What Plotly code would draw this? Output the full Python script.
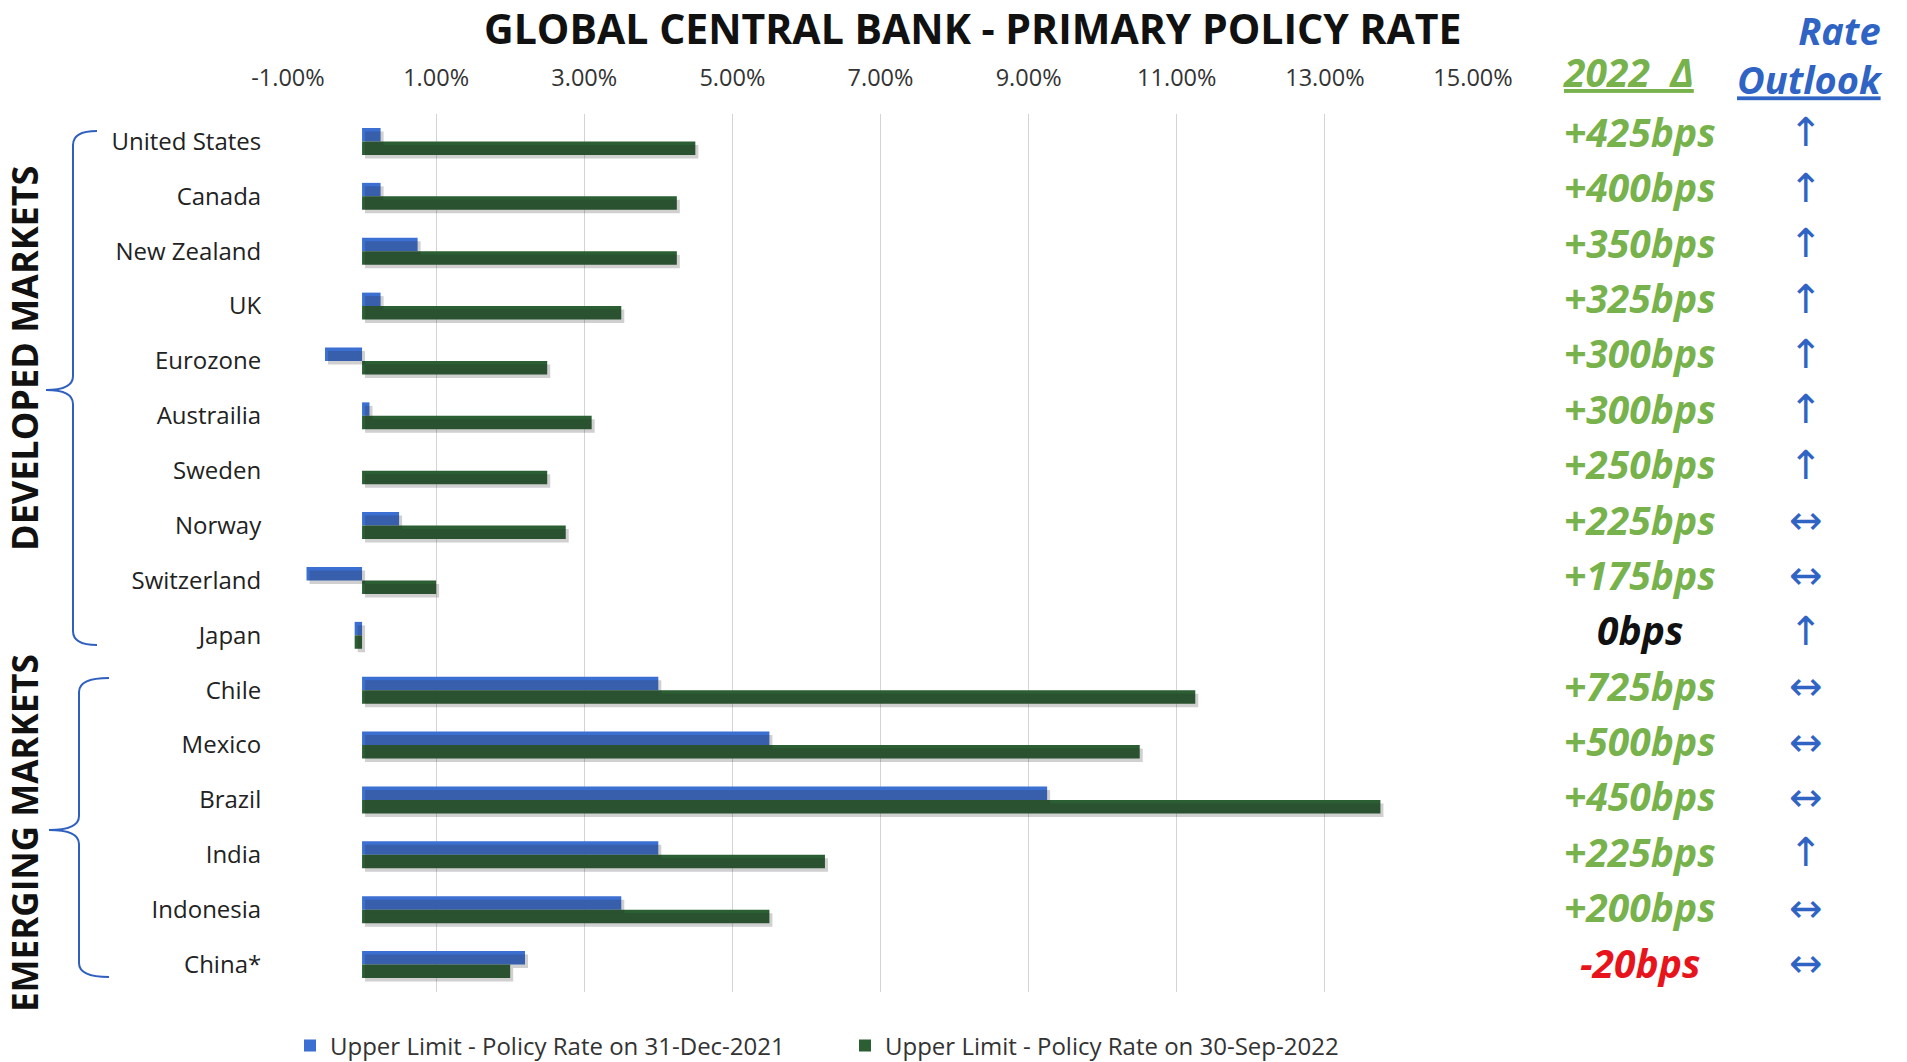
import plotly.graph_objects as go

# ---------------- data ----------------
countries = ["United States", "Canada", "New Zealand", "UK", "Eurozone", "Austrailia",
             "Sweden", "Norway", "Switzerland", "Japan", "Chile", "Mexico", "Brazil",
             "India", "Indonesia", "China*"]
rate_dec2021 = [0.25, 0.25, 0.75, 0.25, -0.50, 0.10, 0.00, 0.50, -0.75, -0.10,
                4.00, 5.50, 9.25, 4.00, 3.50, 2.20]
rate_sep2022 = [4.50, 4.25, 4.25, 3.50, 2.50, 3.10, 2.50, 2.75, 1.00, -0.10,
                11.25, 10.50, 13.75, 6.25, 5.50, 2.00]
delta_labels = ["+425bps", "+400bps", "+350bps", "+325bps", "+300bps", "+300bps",
                "+250bps", "+225bps", "+175bps", "0bps", "+725bps", "+500bps",
                "+450bps", "+225bps", "+200bps", "-20bps"]
outlook = ["↑", "↑", "↑", "↑", "↑", "↑", "↑", "↔", "↔", "↑",
           "↔", "↔", "↔", "↑", "↔", "↔"]
tick_vals = [-1, 1, 3, 5, 7, 9, 11, 13, 15]
tick_text = ["-1.00%", "1.00%", "3.00%", "5.00%", "7.00%", "9.00%", "11.00%", "13.00%", "15.00%"]
series_names = ["Upper Limit - Policy Rate on 31-Dec-2021",
                "Upper Limit - Policy Rate on 30-Sep-2022"]
title_text = "GLOBAL CENTRAL BANK - PRIMARY POLICY RATE"
group_labels = ["DEVELOPED MARKETS", "EMERGING MARKETS"]

# ---------------- layout geometry ----------------
W, H = 1907, 1062
L, R, T, B = 288, 434, 114, 70
PW, PH = W - L - R, H - T - B
X0, X1 = -1, 15
N = len(countries)
ROW_PX = PH / N
BAR_W = 0.245
SH_DX = 3.0 * (X1 - X0) / PW      # shadow shift (axis units) to the right
SH_DY = 3.5 / ROW_PX              # shadow shift (category units) downward


def px2x(px):
    return (px - L) / PW


def px2y(py):
    return 1 - (py - T) / PH


BLUE = "#3B6FD1"
GREEN = "#2B5E33"
SHADOW = "rgba(40,40,40,0.22)"
TXT_GREEN = "#77B24C"
TXT_BLUE = "#2F63C4"
FONT = "Open Sans"

fig = go.Figure()
# soft drop shadows (drawn on a copy of the x axis shifted by a few pixels)
fig.add_trace(go.Bar(y=countries, x=rate_dec2021, orientation="h", showlegend=False,
                     hoverinfo="skip", xaxis="x2", offset=-BAR_W + SH_DY, width=BAR_W,
                     marker=dict(color=SHADOW, line=dict(width=0))))
fig.add_trace(go.Bar(y=countries, x=rate_sep2022, orientation="h", showlegend=False,
                     hoverinfo="skip", xaxis="x2", offset=SH_DY, width=BAR_W,
                     marker=dict(color=SHADOW, line=dict(width=0))))
# real bars
fig.add_trace(go.Bar(y=countries, x=rate_dec2021, orientation="h", name=series_names[0],
                     offset=-BAR_W, width=BAR_W,
                     marker=dict(color=BLUE, line=dict(width=0))))
fig.add_trace(go.Bar(y=countries, x=rate_sep2022, orientation="h", name=series_names[1],
                     offset=0, width=BAR_W,
                     marker=dict(color=GREEN, line=dict(width=0))))

annotations = []
# title
annotations.append(dict(text="<b>" + title_text + "</b>", x=px2x(973), y=px2y(28),
                        xref="paper", yref="paper", xanchor="center", yanchor="middle",
                        showarrow=False, borderpad=0,
                        font=dict(family=FONT, size=41, color="#111111")))
# column headers
annotations.append(dict(text="<b><i><u>2022\u00a0\u00a0Δ</u></i></b>", x=px2x(1628), y=px2y(72),
                        xref="paper", yref="paper", xanchor="center", yanchor="middle",
                        showarrow=False, font=dict(family=FONT, size=39, color=TXT_GREEN)))
annotations.append(dict(text="<b><i>Rate</i></b><br><b><i><u>Outlook</u></i></b>",
                        x=px2x(1884), y=px2y(54), align="right",
                        xref="paper", yref="paper", xanchor="right", yanchor="middle",
                        showarrow=False, borderpad=0,
                        font=dict(family=FONT, size=38, color=TXT_BLUE)))
# right-hand columns
for i, (c, d, o) in enumerate(zip(countries, delta_labels, outlook)):
    if d.startswith("+"):
        col = TXT_GREEN
    elif d.startswith("-"):
        col = "#E8141B"
    else:
        col = "#111111"
    shift = 10 - 0.5 * i
    annotations.append(dict(text="<b><i>" + d + "</i></b>", x=px2x(1640), y=c,
                            xref="paper", yref="y", xanchor="center", yanchor="middle",
                            yshift=shift, showarrow=False,
                            font=dict(family=FONT, size=39, color=col)))
    annotations.append(dict(text=o, x=px2x(1806), y=c,
                            xref="paper", yref="y", xanchor="center", yanchor="middle",
                            yshift=shift - 1, showarrow=False, borderpad=0,
                            font=dict(family="DejaVu Sans", size=40, color=TXT_BLUE)))
# group labels
annotations.append(dict(text="<b>" + group_labels[0] + "</b>", x=px2x(24), y=px2y(359),
                        xref="paper", yref="paper", xanchor="center", yanchor="middle",
                        textangle=-90, showarrow=False,
                        font=dict(family=FONT, size=36, color="#111111")))
annotations.append(dict(text="<b>" + group_labels[1] + "</b>", x=px2x(24), y=px2y(833),
                        xref="paper", yref="paper", xanchor="center", yanchor="middle",
                        textangle=-90, showarrow=False,
                        font=dict(family=FONT, size=35, color="#111111")))


def brace(top, bottom, mid, vx, hook, tip, r=14):
    pts = [
        f"M {px2x(hook)},{px2y(top)}",
        f"Q {px2x(vx)},{px2y(top)} {px2x(vx)},{px2y(top + r)}",
        f"L {px2x(vx)},{px2y(mid - r)}",
        f"Q {px2x(vx)},{px2y(mid)} {px2x(tip)},{px2y(mid)}",
        f"Q {px2x(vx)},{px2y(mid)} {px2x(vx)},{px2y(mid + r)}",
        f"L {px2x(vx)},{px2y(bottom - r)}",
        f"Q {px2x(vx)},{px2y(bottom)} {px2x(hook)},{px2y(bottom)}",
    ]
    return dict(type="path", path=" ".join(pts), xref="paper", yref="paper",
                line=dict(color="#2F5FBF", width=2))


shapes = [brace(131, 645, 390, 73, 97, 46), brace(678, 977, 830, 79, 109, 49)]

fig.update_layout(
    width=W, height=H,
    margin=dict(l=L, r=R, t=T, b=B, pad=0, autoexpand=False),
    paper_bgcolor="white", plot_bgcolor="white",
    barmode="overlay",
    font=dict(family=FONT, size=22, color="#222222"),
    xaxis=dict(range=[X0, X1], side="top", tickvals=tick_vals, ticktext=tick_text,
               showgrid=True, gridcolor="#D4D4D4", gridwidth=1, zeroline=False,
               showline=False, ticks="outside", ticklen=18, tickcolor="rgba(0,0,0,0)",
               tickfont=dict(family=FONT, size=23.5, color="#333333"), fixedrange=True,
               automargin=False),
    xaxis2=dict(range=[X0 - SH_DX, X1 - SH_DX], overlaying="x", visible=False,
                fixedrange=True),
    yaxis=dict(range=[N - 0.5, -0.5], showgrid=False, zeroline=False, showline=False,
               ticks="outside", ticklen=21, tickcolor="rgba(0,0,0,0)",
               tickfont=dict(family=FONT, size=24, color="#222222"), fixedrange=True,
               automargin=False),
    legend=dict(orientation="h", xref="container", yref="container",
                x=290 / W, y=1 - 1046 / H, xanchor="left", yanchor="middle",
                font=dict(family=FONT, size=24, color="#333333"), entrywidth=510,
                bgcolor="rgba(0,0,0,0)", traceorder="normal"),
    annotations=annotations,
    shapes=shapes,
)

fig.write_html("out.html", config={"displayModeBar": False},
               post_script="document.body.style.margin='0';document.body.style.overflow='hidden';")
